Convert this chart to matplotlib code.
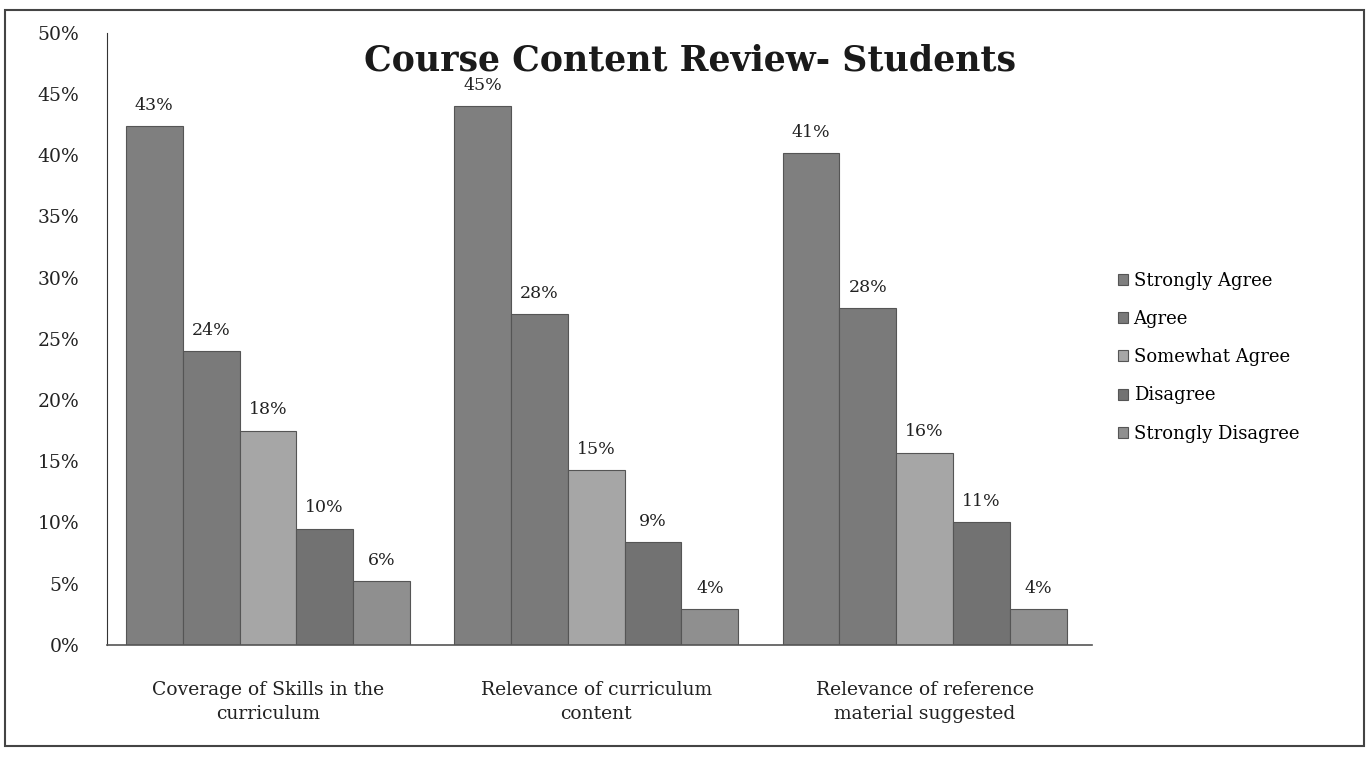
import numpy as np
import matplotlib
matplotlib.use("Agg")
import matplotlib.pyplot as plt
from matplotlib.patches import Rectangle

# data (bar heights in %, printed labels separately)
categories = ["Coverage of Skills in the\ncurriculum",
              "Relevance of curriculum\ncontent",
              "Relevance of reference\nmaterial suggested"]
series = ["Strongly Agree", "Agree", "Somewhat Agree", "Disagree", "Strongly Disagree"]
strongly_agree = [42.4, 44.0, 40.2]
agree = [24.0, 27.0, 27.5]
somewhat_agree = [17.5, 14.3, 15.7]
disagree = [9.5, 8.4, 10.0]
strongly_disagree = [5.2, 2.9, 2.9]
labels_sa = ["43%", "45%", "41%"]
labels_a = ["24%", "28%", "28%"]
labels_swa = ["18%", "15%", "16%"]
labels_d = ["10%", "9%", "11%"]
labels_sd = ["6%", "4%", "4%"]

values = [strongly_agree, agree, somewhat_agree, disagree, strongly_disagree]
labels = [labels_sa, labels_a, labels_swa, labels_d, labels_sd]
colors = ["#7f7f7f", "#7a7a7a", "#a6a6a6", "#727272", "#8f8f8f"]

plt.rcParams['font.family'] = ['DejaVu Serif']

fig = plt.figure(figsize=(13.72, 7.65), dpi=100)
ax = fig.add_axes([0.078, 0.157, 0.718, 0.800])

x = np.arange(len(categories))
w = 0.173
for i in range(len(series)):
    pos = x + (i - 2) * w
    bars = ax.bar(pos, values[i], w, color=colors[i], edgecolor="#555555",
                  linewidth=0.8, label=series[i])
    for b, t in zip(bars, labels[i]):
        ax.text(b.get_x() + b.get_width() / 2, b.get_height() + 1.0, t,
                ha="center", va="bottom", fontsize=12.5, color="#222222")

ax.set_xlim(-0.49, 2.51)
ax.set_ylim(0, 50)
ax.set_yticks(np.arange(0, 51, 5))
ax.set_yticklabels([f"{v}%" for v in range(0, 51, 5)], fontsize=13.5, color="#222222")
ax.set_xticks(x)
ax.set_xticklabels(categories, fontsize=13.5, color="#222222", linespacing=1.45)
ax.tick_params(axis="y", length=0, pad=20)
ax.tick_params(axis="x", length=0, pad=26)
for s in ["top", "right"]:
    ax.spines[s].set_visible(False)
ax.spines["left"].set_color("#333333")
ax.spines["bottom"].set_color("#555555")
ax.spines["bottom"].set_linewidth(1.2)

fig.text(0.503, 0.921, "Course Content Review- Students", ha="center", va="center",
         fontsize=25, fontweight="bold", color="#1a1a1a")

leg = ax.legend(loc="center left", bbox_to_anchor=(1.01, 0.47), frameon=False,
                fontsize=13, handlelength=0.55, handleheight=0.55,
                handletextpad=0.3, labelspacing=1.12)

# scanned frame around the chart
fig.patches.append(Rectangle((0.004, 0.025), 0.99, 0.962, transform=fig.transFigure,
                             fill=False, edgecolor="#444444", linewidth=1.5))

fig.savefig("out.png", dpi=100)
